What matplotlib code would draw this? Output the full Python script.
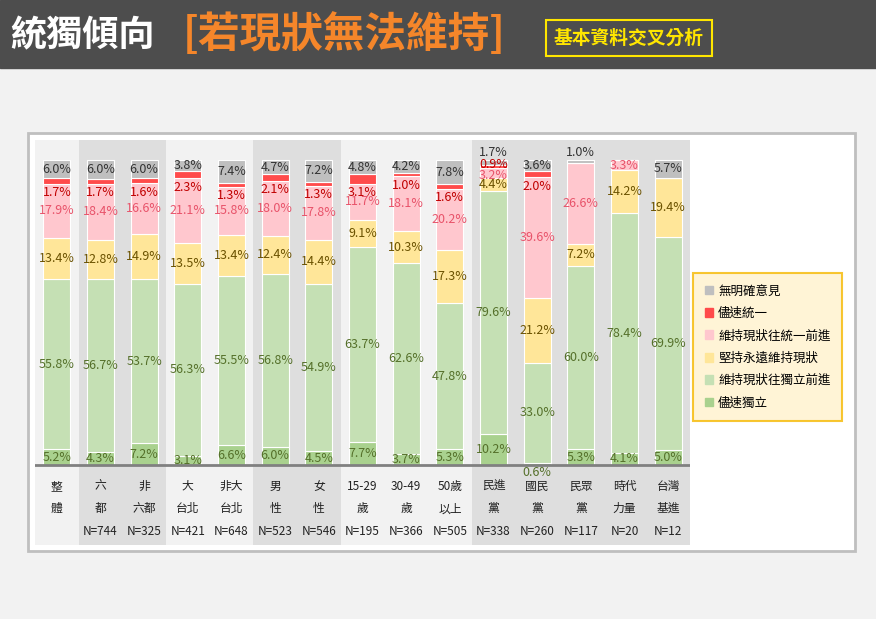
import matplotlib
matplotlib.use("Agg")
import matplotlib.pyplot as plt
from matplotlib.patches import Rectangle

plt.rcParams['font.family'] = ['Noto Sans CJK TC', 'DejaVu Sans']

cats = ["整\n體\n", "六\n都\nN=744", "非\n六都\nN=325", "大\n台北\nN=421", "非大\n台北\nN=648",
        "男\n性\nN=523", "女\n性\nN=546", "15-29\n歲\nN=195", "30-49\n歲\nN=366", "50歲\n以上\nN=505",
        "民進\n黨\nN=338", "國民\n黨\nN=260", "民眾\n黨\nN=117", "時代\n力量\nN=20", "台灣\n基進\nN=12"]
s_indep_fast = [5.2, 4.3, 7.2, 3.1, 6.6, 6.0, 4.5, 7.7, 3.7, 5.3, 10.2, 0.6, 5.3, 4.1, 5.0]
s_indep_keep = [55.8, 56.7, 53.7, 56.3, 55.5, 56.8, 54.9, 63.7, 62.6, 47.8, 79.6, 33.0, 60.0, 78.4, 69.9]
s_status = [13.4, 12.8, 14.9, 13.5, 13.4, 12.4, 14.4, 9.1, 10.3, 17.3, 4.4, 21.2, 7.2, 14.2, 19.4]
s_unif_keep = [17.9, 18.4, 16.6, 21.1, 15.8, 18.0, 17.8, 11.7, 18.1, 20.2, 3.2, 39.6, 26.6, 3.3, 0]
s_unif_fast = [1.7, 1.7, 1.6, 2.3, 1.3, 2.1, 1.3, 3.1, 1.0, 1.6, 0.9, 2.0, 0, 0, 0]
s_none = [6.0, 6.0, 6.0, 3.8, 7.4, 4.7, 7.2, 4.8, 4.2, 7.8, 1.7, 3.6, 1.0, 0, 5.7]
series_names = ["儘速獨立", "維持現狀往獨立前進", "堅持永遠維持現狀", "維持現狀往統一前進", "儘速統一", "無明確意見"]

series = [s_indep_fast, s_indep_keep, s_status, s_unif_keep, s_unif_fast, s_none]
colors = ["#a9d18e", "#c5e0b4", "#ffe699", "#ffc7ce", "#ff4b4b", "#bfbfbf"]
tcolors = ["#55702a", "#55702a", "#6b5200", "#e8536a", "#c00000", "#333333"]

fig = plt.figure(figsize=(8.76, 6.19), dpi=100)
fig.patch.set_facecolor("#f2f2f2")
bg = fig.add_axes([0, 0, 1, 1], zorder=0)
bg.set_xlim(0, 876); bg.set_ylim(619, 0); bg.axis("off")
bg.add_patch(Rectangle((0, 0), 876, 68, color="#4d4d4d"))
bg.add_patch(Rectangle((28, 133), 827, 418, fc="white", ec="#bfbfbf", lw=2))
bg.text(10, 36, "統獨傾向", color="white", fontsize=26, fontweight="bold", va="center")
bg.text(183, 35, "[若現狀無法維持]", color="#f5862a", fontsize=30, fontweight="bold", va="center")
bg.text(629, 38, "基本資料交叉分析", color="#ffe600", fontsize=13.5, fontweight="bold", va="center", ha="center",
        bbox=dict(boxstyle="square,pad=0.45", fc="#4d4d4d", ec="#ffe600", lw=1.5))

ax = fig.add_axes([35/876, 1 - 545/619, 655/876, 405/619], zorder=1)
ax.set_facecolor("#f2f2f2")
n = len(cats)
ax.set_xlim(-0.5, n - 0.5)
ax.set_ylim(-26.2, 106.6)
for i in list(range(1, 3)) + list(range(5, 7)) + list(range(10, 15)):
    ax.axvspan(i - 0.5, i + 0.5, color="#dedede", lw=0, zorder=0)

w = 0.62
bottom = [0.0] * n
for k, (vals, c) in enumerate(zip(series, colors)):
    ax.bar(range(n), vals, w, bottom=bottom, color=c, edgecolor="white", lw=0.8, zorder=2)
    for i, v in enumerate(vals):
        if v <= 0:
            continue
        b = bottom[i]
        if k == 0 and v < 1:
            y, va = b - 0.3, "top"
        elif k == 4 and v < 1:
            y, va = b + v / 2 + 0.8, "center"
        elif k == 4:
            y, va = b - 0.8, "top"
        elif k == 3 and v < 3.5 and s_unif_fast[i] > 0:
            y, va = b + v / 2 - 0.8, "center"
        elif k == 5 and v < 2.5:
            y, va = b + v + 0.3, "bottom"
        else:
            y, va = b + v / 2, "center"
        ax.text(i, y, f"{v:.1f}%", ha="center", va=va, fontsize=9, color=tcolors[k], zorder=4)
    bottom = [b + v for b, v in zip(bottom, vals)]

ax.axhline(0, color="#808080", lw=2, zorder=3)
for i, c in enumerate(cats):
    ax.text(i, -4.8, c, ha="center", va="top", fontsize=8.5, color="#222222", linespacing=1.95)
ax.set_xticks([])
ax.set_yticks([])
for s in ax.spines.values():
    s.set_visible(False)

handles = [Rectangle((0, 0), 1, 1, color=c) for c in colors][::-1]
leg = fig.legend(handles, series_names[::-1], loc="upper left", bbox_to_anchor=(697/876, 1 - 277/619),
                 fontsize=9, frameon=True, handlelength=0.7, handleheight=0.7, labelspacing=0.75,
                 borderpad=0.6, handletextpad=0.4, borderaxespad=0)
leg.set_zorder(5)
leg.get_frame().set_facecolor("#fff2cc")
leg.get_frame().set_edgecolor("#f5b800")
leg.get_frame().set_linewidth(1.5)
leg.get_frame().set_boxstyle("square")

fig.savefig("out.png", dpi=100, facecolor=fig.get_facecolor())
